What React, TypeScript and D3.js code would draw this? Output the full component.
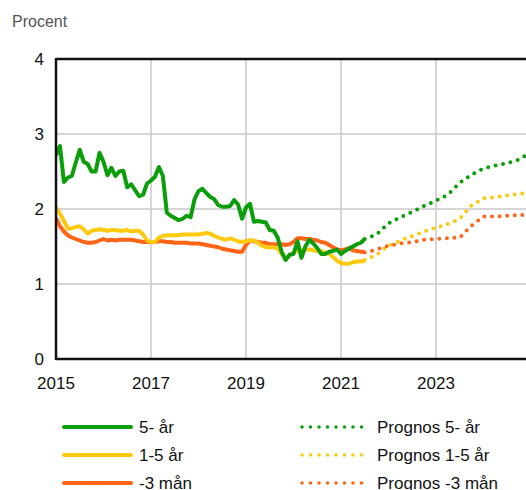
import React, { useEffect, useRef } from "react";
import * as d3 from "d3";

// Monthly observations Jan 2015 – Jul 2021
const startYear = 2015;
const fiveYear = [2.72, 2.84, 2.36, 2.42, 2.44, 2.62, 2.79, 2.63, 2.6, 2.5, 2.5, 2.75, 2.63, 2.45, 2.55, 2.44, 2.5, 2.51, 2.29, 2.33, 2.25, 2.17, 2.19, 2.34, 2.38, 2.43, 2.56, 2.44, 1.95, 1.91, 1.88, 1.85, 1.87, 1.91, 1.89, 2.13, 2.24, 2.27, 2.21, 2.16, 2.13, 2.05, 2.03, 2.03, 2.04, 2.12, 2.06, 1.87, 2.02, 2.07, 1.83, 1.84, 1.83, 1.82, 1.72, 1.71, 1.62, 1.43, 1.32, 1.39, 1.4, 1.57, 1.35, 1.5, 1.59, 1.54, 1.48, 1.4, 1.4, 1.43, 1.44, 1.46, 1.4, 1.44, 1.47, 1.5, 1.53, 1.55, 1.6];
const oneToFive = [2.02, 1.94, 1.84, 1.74, 1.74, 1.76, 1.77, 1.73, 1.67, 1.71, 1.72, 1.73, 1.72, 1.71, 1.72, 1.72, 1.71, 1.71, 1.72, 1.7, 1.71, 1.71, 1.66, 1.58, 1.56, 1.56, 1.62, 1.64, 1.65, 1.65, 1.65, 1.65, 1.66, 1.66, 1.66, 1.66, 1.66, 1.67, 1.68, 1.67, 1.64, 1.62, 1.6, 1.59, 1.61, 1.59, 1.57, 1.56, 1.57, 1.58, 1.58, 1.55, 1.51, 1.49, 1.49, 1.49, 1.47, 1.4, 1.33, 1.38, 1.42, 1.44, 1.45, 1.46, 1.46, 1.45, 1.44, 1.44, 1.42, 1.4, 1.36, 1.31, 1.28, 1.27, 1.27, 1.29, 1.3, 1.3, 1.31];
const threeMonth = [1.88, 1.77, 1.7, 1.65, 1.62, 1.6, 1.58, 1.56, 1.55, 1.55, 1.56, 1.58, 1.6, 1.58, 1.59, 1.58, 1.59, 1.59, 1.59, 1.59, 1.58, 1.57, 1.56, 1.56, 1.56, 1.56, 1.57, 1.57, 1.56, 1.56, 1.55, 1.55, 1.55, 1.55, 1.54, 1.54, 1.54, 1.53, 1.52, 1.51, 1.5, 1.49, 1.47, 1.46, 1.45, 1.44, 1.43, 1.43, 1.52, 1.58, 1.57, 1.56, 1.55, 1.55, 1.53, 1.53, 1.53, 1.53, 1.52, 1.53, 1.56, 1.61, 1.61, 1.6, 1.6, 1.59, 1.58, 1.56, 1.55, 1.52, 1.49, 1.46, 1.45, 1.46, 1.48, 1.45, 1.44, 1.43, 1.43];

// Forecasts (quarterly, fractional years)
const forecastDates = [2021.5, 2021.75, 2022.0, 2022.25, 2022.5, 2022.75, 2023.0, 2023.25, 2023.5, 2023.75, 2024.0, 2024.25, 2024.5, 2024.75, 2025.0];
const fcFiveYear = [1.6, 1.66, 1.81, 1.89, 1.96, 2.04, 2.11, 2.19, 2.35, 2.46, 2.54, 2.58, 2.61, 2.66, 2.76];
const fcOneToFive = [1.32, 1.39, 1.51, 1.58, 1.64, 1.7, 1.75, 1.8, 1.87, 2.05, 2.14, 2.16, 2.18, 2.2, 2.22];
const fcThreeMonth = [1.42, 1.46, 1.51, 1.54, 1.56, 1.59, 1.6, 1.61, 1.62, 1.78, 1.9, 1.9, 1.91, 1.92, 1.92];

const yTicks = [0, 1, 2, 3, 4];
const xTicks = [2015, 2017, 2019, 2021, 2023];

const GREEN = "#0a9e0a";
const YELLOW = "#ffc90e";
const ORANGE = "#ff6417";

const series = [
  { name: "5- år", values: fiveYear, fc: fcFiveYear, fcName: "Prognos 5- år", color: GREEN },
  { name: "1-5 år", values: oneToFive, fc: fcOneToFive, fcName: "Prognos 1-5 år", color: YELLOW },
  { name: "-3 mån", values: threeMonth, fc: fcThreeMonth, fcName: "Prognos -3 mån", color: ORANGE },
];

export default function App() {
  const ref = useRef<SVGSVGElement>(null);

  useEffect(() => {
    const svg = d3.select(ref.current);
    svg.selectAll("*").remove();
    const W = 526, H = 490;
    const left = 56, top = 59, bottom = 359;
    const x = d3.scaleLinear().domain([2015, 2025]).range([left, left + 10 * 47.5]);
    const y = d3.scaleLinear().domain([0, 4]).range([bottom, top]);
    const font = "'Liberation Sans', Arial, sans-serif";

    svg.append("text").attr("x", 12).attr("y", 27).text("Procent")
      .attr("font-family", font).attr("font-size", 16).attr("fill", "#555");

    const g = svg.append("g");
    // grid
    g.selectAll(".hg").data(yTicks.filter(d => d > 0 && d < 4)).enter().append("line")
      .attr("x1", left).attr("x2", W).attr("y1", d => y(d)).attr("y2", d => y(d))
      .attr("stroke", "#c8c8c8").attr("stroke-width", 1.5);
    g.selectAll(".vg").data(xTicks.filter(d => d > 2015)).enter().append("line")
      .attr("x1", d => x(d)).attr("x2", d => x(d)).attr("y1", top).attr("y2", bottom)
      .attr("stroke", "#c8c8c8").attr("stroke-width", 1.5);

    // y tick labels
    g.selectAll(".yl").data(yTicks).enter().append("text")
      .attr("x", 44).attr("y", d => y(d)).attr("dy", "0.35em").attr("text-anchor", "end")
      .attr("font-family", font).attr("font-size", 17).attr("fill", "#111").text(d => d);
    g.selectAll(".xl").data(xTicks).enter().append("text")
      .attr("x", d => x(d)).attr("y", 389).attr("text-anchor", "middle")
      .attr("font-family", font).attr("font-size", 17).attr("fill", "#111").text(d => d);

    const lineM = d3.line<number>().x((_, i) => x(startYear + i / 12)).y(d => y(d));
    const lineF = d3.line<number>().x((_, i) => x(forecastDates[i])).y(d => y(d));

    const clip = svg.append("clipPath").attr("id", "clp").append("rect")
      .attr("x", left).attr("y", top).attr("width", W - left).attr("height", bottom - top);

    const pg = g.append("g").attr("clip-path", "url(#clp)");
    series.forEach(s => {
      pg.append("path").attr("d", lineF(s.fc)).attr("fill", "none").attr("stroke", s.color)
        .attr("stroke-width", 4).attr("stroke-linecap", "round").attr("stroke-dasharray", "0 7.6");
    });
    [...series].reverse().forEach(s => {
      pg.append("path").attr("d", lineM(s.values)).attr("fill", "none").attr("stroke", s.color)
        .attr("stroke-width", 4).attr("stroke-linejoin", "round");
    });

    // axes frame
    g.append("line").attr("x1", left).attr("x2", W).attr("y1", top).attr("y2", top)
      .attr("stroke", "#111").attr("stroke-width", 2.5);
    g.append("line").attr("x1", left).attr("x2", W).attr("y1", bottom).attr("y2", bottom)
      .attr("stroke", "#111").attr("stroke-width", 2.5);
    g.append("line").attr("x1", left).attr("x2", left).attr("y1", top - 1).attr("y2", bottom + 1)
      .attr("stroke", "#111").attr("stroke-width", 2.5);

    // legend
    const lg = svg.append("g");
    series.forEach((s, i) => {
      const ly = 427 + i * 28;
      lg.append("line").attr("x1", 64).attr("x2", 131).attr("y1", ly).attr("y2", ly)
        .attr("stroke", s.color).attr("stroke-width", 4).attr("stroke-linecap", "round");
      lg.append("text").attr("x", 139).attr("y", ly).attr("dy", "0.35em").text(s.name)
        .attr("font-family", font).attr("font-size", 17).attr("fill", "#111");
      lg.append("line").attr("x1", 302).attr("x2", 370).attr("y1", ly).attr("y2", ly)
        .attr("stroke", s.color).attr("stroke-width", 3.5).attr("stroke-linecap", "round")
        .attr("stroke-dasharray", "0 8.5");
      lg.append("text").attr("x", 377).attr("y", ly).attr("dy", "0.35em").text(s.fcName)
        .attr("font-family", font).attr("font-size", 17).attr("fill", "#111");
    });
  }, []);

  return (
    <svg ref={ref} width={526} height={490}
      style={{ position: "absolute", left: 0, top: 0, background: "#fff" }} />
  );
}
